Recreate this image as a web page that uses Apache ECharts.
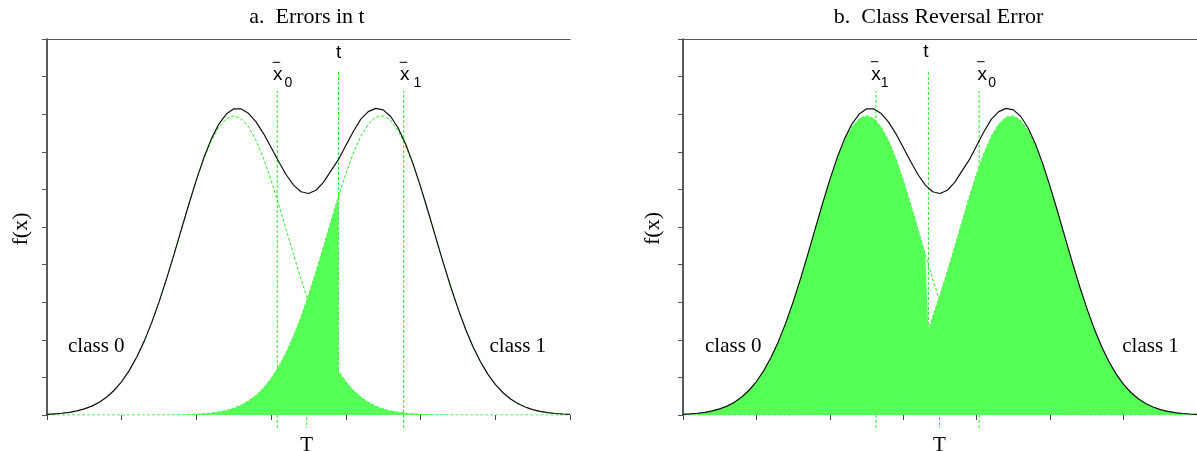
<!DOCTYPE html>
<html><head><meta charset="utf-8">
<script src="https://cdn.jsdelivr.net/npm/echarts@6/dist/echarts.min.js"></script>
<style>html,body{margin:0;padding:0;background:#fff}#c{width:1197px;height:451px}</style>
</head><body><div id="c"></div><script>
// sample positions along x (axis runs 0..7, unlabeled ticks every 1)
const xs = [0,0.1,0.2,0.3,0.4,0.5,0.6,0.7,0.8,0.9,1,1.1,1.2,1.3,1.4,1.5,1.6,1.7,1.8,1.9,2,2.1,2.2,2.3,2.4,2.5,2.6,2.7,2.8,2.9,3,3.1,3.2,3.3,3.4,3.5,3.6,3.7,3.8,3.9,4,4.1,4.2,4.3,4.4,4.5,4.6,4.7,4.8,4.9,5,5.1,5.2,5.3,5.4,5.5,5.6,5.7,5.8,5.9,6,6.1,6.2,6.3,6.4,6.5,6.6,6.7,6.8,6.9,7];
// class 0 density (green dashed, left hump)
const class0 = [0.0009,0.0015,0.0023,0.0036,0.0054,0.0081,0.0118,0.0170,0.0239,0.0329,0.0445,0.0590,0.0768,0.0979,0.1225,0.1503,0.1809,0.2134,0.2470,0.2803,0.3120,0.3406,0.3646,0.3828,0.3941,0.3980,0.3941,0.3828,0.3646,0.3406,0.3120,0.2803,0.2470,0.2134,0.1809,0.1503,0.1225,0.0979,0.0768,0.0590,0.0445,0.0329,0.0239,0.0170,0.0118,0.0081,0.0054,0.0036,0.0023,0.0015,0.0009,0.0005,0.0003,0.0002,0.0001,0.0001,0,0,0,0,0,0,0,0,0,0,0,0,0,0,0];
// class 1 density (green dashed, right hump)
const class1 = [0,0,0,0,0,0,0,0,0,0,0,0,0,0,0,0.0001,0.0001,0.0002,0.0004,0.0006,0.0010,0.0017,0.0026,0.0041,0.0061,0.0091,0.0132,0.0188,0.0263,0.0361,0.0485,0.0640,0.0828,0.1050,0.1305,0.1592,0.1905,0.2234,0.2571,0.2901,0.3210,0.3483,0.3707,0.3870,0.3961,0.3977,0.3915,0.3780,0.3580,0.3324,0.3028,0.2704,0.2369,0.2035,0.1714,0.1417,0.1148,0.0912,0.0711,0.0543,0.0407,0.0299,0.0216,0.0153,0.0106,0.0072,0.0048,0.0031,0.0020,0.0013,0.0008];
// overall density f(x) (black)
const mixture = [0.0009,0.0015,0.0023,0.0036,0.0054,0.0081,0.0118,0.0170,0.0239,0.0329,0.0445,0.0590,0.0768,0.0979,0.1225,0.1504,0.1810,0.2136,0.2474,0.2809,0.3130,0.3423,0.3672,0.3869,0.4002,0.4071,0.4070,0.4009,0.3894,0.3739,0.3558,0.3371,0.3198,0.3057,0.2969,0.2945,0.2989,0.3094,0.3247,0.3395,0.3585,0.3770,0.3934,0.4034,0.4077,0.4058,0.3969,0.3816,0.3603,0.3339,0.3037,0.2709,0.2372,0.2037,0.1715,0.1418,0.1148,0.0912,0.0711,0.0543,0.0407,0.0299,0.0216,0.0153,0.0106,0.0072,0.0048,0.0031,0.0020,0.0013,0.0008];
// marker positions: panel a [xbar0, t, xbar1, T], panel b [xbar1, t, xbar0, T]
const linesA = [3.082, 3.902, 4.774, 3.476];
const linesB = [2.627, 3.342, 4.033, 3.493];
// fill levels read at t: panel a [top (class 1), bottom (class 0)], panel b [class 1]
const fillEdgeA = [0.2926, 0.057];
const fillEdgeB = [0.1108];
const titles = ['a.  Errors in t', 'b.  Class Reversal Error'];
const classLabels = ['class 0', 'class 1'];

const GREEN = '#22ee22', FILL = '#55ff55';
const SERIF = '"Liberation Serif","Times New Roman",serif';
const SANS = '"Liberation Sans",Arial,sans-serif';

function pts(arr) { return xs.map((x, i) => [x, arr[i]]); }
function fillA() {
  const d = [];
  xs.forEach((x, i) => { if (x < linesA[1]) d.push([x, class1[i]]); });
  d.push([linesA[1], fillEdgeA[0]], [linesA[1], fillEdgeA[1]]);
  xs.forEach((x, i) => { if (x > linesA[1]) d.push([x, class0[i]]); });
  return d;
}
function fillB() {
  const d = [];
  xs.forEach((x, i) => { if (x < linesB[1]) d.push([x, class0[i]]); });
  d.push([linesB[1], fillEdgeB[0]]);
  xs.forEach((x, i) => { if (x > linesB[1]) d.push([x, class1[i]]); });
  return d;
}
const Y_TOP = 0.4309, Y_TTOP = 0.4565, Y_BOT = -0.0173, Y_TB = -0.003;

function vline(xi, yi, x, y0, y1) {
  return { type: 'line', xAxisIndex: xi, yAxisIndex: yi, data: [[x, y0], [x, y1]], symbol: 'none',
    clip: false, silent: true, z: 1, lineStyle: { color: GREEN, width: 1, type: [3, 2] } };
}
function curve(xi, yi, data, color, width, dashed, z) {
  return { type: 'line', xAxisIndex: xi, yAxisIndex: yi, data, symbol: 'none', silent: true, z,
    lineStyle: { color, width, type: dashed ? [3, 2] : 'solid' } };
}
function area(xi, yi, data) {
  return { type: 'line', xAxisIndex: xi, yAxisIndex: yi, data, symbol: 'none', silent: true, z: 3,
    lineStyle: { width: 0, opacity: 0 }, areaStyle: { color: FILL, opacity: 1, origin: 'start' } };
}
function panelSeries(xi, yi, lines, fill) {
  return [
    vline(xi, yi, lines[0], Y_BOT, Y_TOP),
    vline(xi, yi, lines[1], 0, Y_TTOP),
    vline(xi, yi, lines[2], Y_BOT, Y_TOP),
    vline(xi, yi, lines[3], Y_TB, Y_BOT),
    curve(xi, yi, pts(class0), GREEN, 1, true, 2),
    curve(xi, yi, pts(class1), GREEN, 1, true, 2),
    area(xi, yi, fill),
    curve(xi, yi, pts(mixture), '#111', 1.2, false, 4)
  ];
}
function xBottom(g) {
  return { gridIndex: g, type: 'value', min: 0, max: 7, interval: 1,
    axisLine: { show: false, onZero: false }, axisTick: { show: true, length: 5, lineStyle: { color: '#444', width: 1 } },
    axisLabel: { show: false }, splitLine: { show: false } };
}
function xTop(g) {
  return { gridIndex: g, type: 'value', position: 'top', min: 0, max: 7, interval: 1,
    axisLine: { show: true, onZero: false, lineStyle: { color: '#555', width: 1.2 } }, axisTick: { show: false },
    axisLabel: { show: false }, splitLine: { show: false } };
}
function yAx(g) {
  return { gridIndex: g, type: 'value', min: 0, max: 0.5, interval: 0.05,
    axisLine: { show: true, onZero: false, lineStyle: { color: '#222', width: 1.5 } },
    axisTick: { show: true, length: 5, lineStyle: { color: '#555', width: 1 } },
    axisLabel: { show: false }, splitLine: { show: false } };
}

const chart = echarts.init(document.getElementById('c'), null, { renderer: 'canvas' });
chart.setOption({
  animation: false,
  backgroundColor: '#fff',
  grid: [
    { left: 47, top: 39, width: 523, height: 376 },
    { left: 683, top: 39, width: 523, height: 376 }
  ],
  xAxis: [xBottom(0), xTop(0), xBottom(1), xTop(1)],
  yAxis: [yAx(0), yAx(1)],
  series: [...panelSeries(0, 0, linesA, fillA()), ...panelSeries(2, 1, linesB, fillB())]
});

function px(g, x, y) { return chart.convertToPixel({ gridIndex: g }, [x, y]); }
function txt(x, y, text, font, align, rot) {
  return { type: 'text', x, y, rotation: rot || 0, silent: true, z: 10,
    style: { text, font, fill: '#000', align: align || 'center', verticalAlign: 'middle',
      textAlign: align || 'center', textVerticalAlign: 'middle' } };
}
function xbar(g, lx, dc, ds, sub, yb) {
  const cx = px(g, lx, 0)[0] + dc;
  return [
    txt(cx, 75.1, 'x', '19px ' + SANS, 'center'),
    txt(px(g, lx, 0)[0] + ds, 83.5, sub, '14px ' + SANS, 'left'),
    { type: 'line', silent: true, z: 10, shape: { x1: cx - 5, y1: yb, x2: cx + 2.5, y2: yb }, style: { stroke: '#000', lineWidth: 1 } }
  ];
}
const g = [
  txt(307, 16.9, titles[0], '22px ' + SERIF),
  txt(938.5, 16.9, titles[1], '22px ' + SERIF),
  txt(68, 346.9, classLabels[0], '21px ' + SERIF, 'left'),
  txt(489.5, 346.9, classLabels[1], '21px ' + SERIF, 'left'),
  txt(705, 346.9, classLabels[0], '21px ' + SERIF, 'left'),
  txt(1122.3, 346.9, classLabels[1], '21px ' + SERIF, 'left'),
  txt(21, 229, 'f(x)', '22px ' + SERIF, 'center', Math.PI / 2),
  txt(653.5, 228.5, 'f(x)', '22px ' + SERIF, 'center', Math.PI / 2),
  txt(px(0, linesA[3], 0)[0], 445, 'T', '21px ' + SERIF),
  txt(px(1, linesB[3], 0)[0], 445, 'T', '21px ' + SERIF),
  txt(px(0, linesA[1], 0)[0], 52.7, 't', '19px ' + SANS),
  txt(px(1, linesB[1], 0)[0] - 2.5, 51.7, 't', '19px ' + SANS),
  ...xbar(0, linesA[0], 0.4, 7.2, '0', 62.3),
  ...xbar(0, linesA[2], 1, 9.8, '1', 62.3),
  ...xbar(1, linesB[0], 0, 4.9, '1', 61.7),
  ...xbar(1, linesB[2], 3, 9.1, '0', 61.7)
];
chart.setOption({ graphic: g });
</script></body></html>
